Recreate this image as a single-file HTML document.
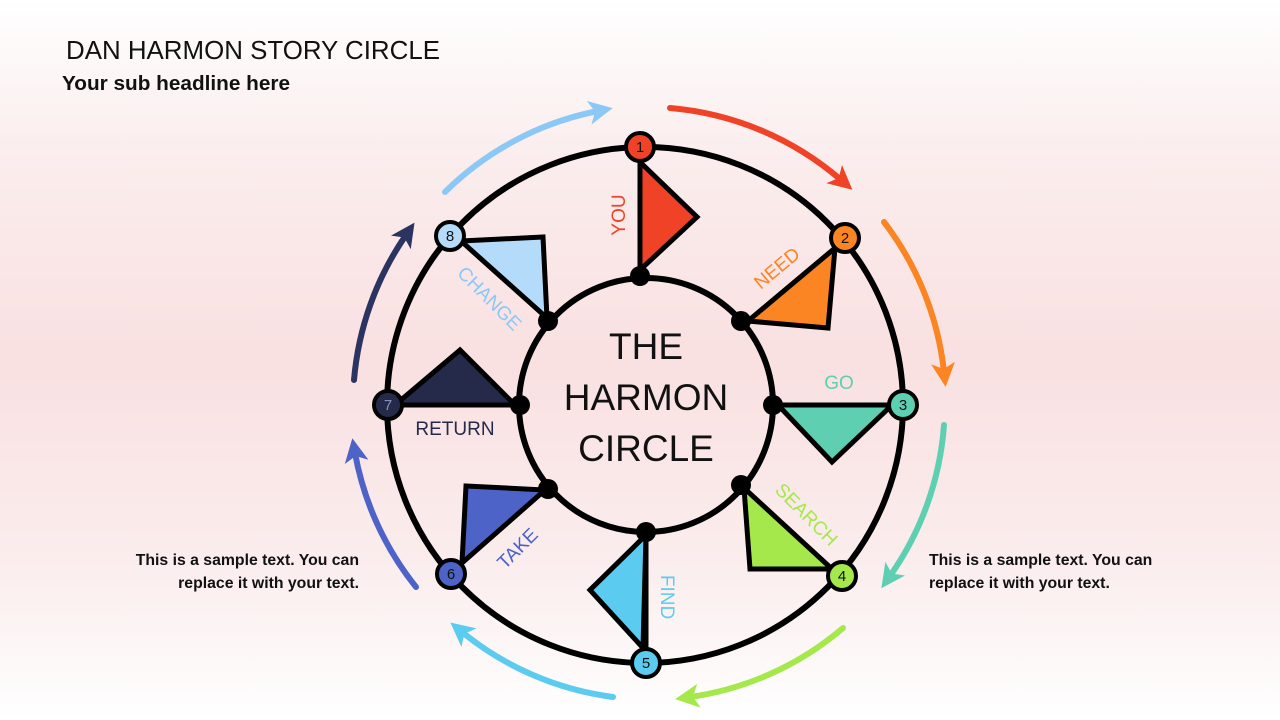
<!DOCTYPE html>
<html><head><meta charset="utf-8"><style>
html,body{margin:0;padding:0}
body{width:1280px;height:720px;overflow:hidden;font-family:"Liberation Sans","DejaVu Sans",sans-serif;
background:linear-gradient(180deg,#ffffff 0%,#fbeeee 20%,#f9e0e1 50%,#fbeeee 80%,#ffffff 100%);}
</style></head><body>
<svg width="1280" height="720" xmlns="http://www.w3.org/2000/svg" style="position:absolute;left:0;top:0">
<defs>
<marker id="m1" markerWidth="4" markerHeight="4" refX="1.5" refY="2" orient="auto" markerUnits="strokeWidth"><path d="M0,0 L4,2 L0,4 L1,2 Z" fill="#f04226"/></marker>
<marker id="m2" markerWidth="4" markerHeight="4" refX="1.5" refY="2" orient="auto" markerUnits="strokeWidth"><path d="M0,0 L4,2 L0,4 L1,2 Z" fill="#fb8423"/></marker>
<marker id="m3" markerWidth="4" markerHeight="4" refX="1.5" refY="2" orient="auto" markerUnits="strokeWidth"><path d="M0,0 L4,2 L0,4 L1,2 Z" fill="#5fcfb1"/></marker>
<marker id="m4" markerWidth="4" markerHeight="4" refX="1.5" refY="2" orient="auto" markerUnits="strokeWidth"><path d="M0,0 L4,2 L0,4 L1,2 Z" fill="#a5e84c"/></marker>
<marker id="m5" markerWidth="4" markerHeight="4" refX="1.5" refY="2" orient="auto" markerUnits="strokeWidth"><path d="M0,0 L4,2 L0,4 L1,2 Z" fill="#5ccbf0"/></marker>
<marker id="m6" markerWidth="4" markerHeight="4" refX="1.5" refY="2" orient="auto" markerUnits="strokeWidth"><path d="M0,0 L4,2 L0,4 L1,2 Z" fill="#4d63c8"/></marker>
<marker id="m7" markerWidth="4" markerHeight="4" refX="1.5" refY="2" orient="auto" markerUnits="strokeWidth"><path d="M0,0 L4,2 L0,4 L1,2 Z" fill="#2b3461"/></marker>
<marker id="m8" markerWidth="4" markerHeight="4" refX="1.5" refY="2" orient="auto" markerUnits="strokeWidth"><path d="M0,0 L4,2 L0,4 L1,2 Z" fill="#8cc8f5"/></marker>
</defs>
<text x="66" y="59" font-size="26" fill="#111" textLength="374" lengthAdjust="spacingAndGlyphs">DAN HARMON STORY CIRCLE</text>
<text x="62" y="90" font-size="20" font-weight="bold" fill="#111" textLength="228" lengthAdjust="spacingAndGlyphs">Your sub headline here</text>
<text x="359" y="565" font-size="15.8" font-weight="bold" fill="#111" text-anchor="end">This is a sample text. You can</text>
<text x="359" y="588" font-size="15.8" font-weight="bold" fill="#111" text-anchor="end">replace it with your text.</text>
<text x="929" y="565" font-size="15.8" font-weight="bold" fill="#111">This is a sample text. You can</text>
<text x="929" y="588" font-size="15.8" font-weight="bold" fill="#111">replace it with your text.</text>

<g fill="none" stroke-width="6" stroke-linecap="round">
<path d="M670,108 A300,300 0 0 1 841,180" stroke="#f04226" marker-end="url(#m1)"/>
<path d="M884,222 A300,300 0 0 1 944,372" stroke="#fb8423" marker-end="url(#m2)"/>
<path d="M944,425 A300,300 0 0 1 890,576" stroke="#5fcfb1" marker-end="url(#m3)"/>
<path d="M843,628 A300,300 0 0 1 690,697" stroke="#a5e84c" marker-end="url(#m4)"/>
<path d="M613,697 A300,300 0 0 1 462,632" stroke="#5ccbf0" marker-end="url(#m5)"/>
<path d="M416,587 A300,300 0 0 1 355,453" stroke="#4d63c8" marker-end="url(#m6)"/>
<path d="M354,380 A300,300 0 0 1 406,235" stroke="#2b3461" marker-end="url(#m7)"/>
<path d="M445,192 A300,300 0 0 1 598,111" stroke="#8cc8f5" marker-end="url(#m8)"/>
</g>

<g stroke="#000" stroke-width="6" fill="none">
<circle cx="645" cy="405" r="258"/>
<circle cx="646" cy="405" r="127"/>
</g>
<g stroke="#000" stroke-width="5" stroke-linejoin="miter">
<polygon points="640,162 697,217 640,270" fill="#f04226"/>
<line x1="640" y1="150" x2="640" y2="276"/>
<polygon points="748,321 835,248 828,328" fill="#fb8423"/>
<polygon points="778,405 892,405 832,462" fill="#5fcfb1"/>
<polygon points="744,488 750,569 832,569" fill="#a5e84c"/>
<polygon points="646,535 590,590 643,648" fill="#5ccbf0"/>
<line x1="646" y1="532" x2="646" y2="660"/>
<polygon points="466,486 545,490 462,563" fill="#4d63c8"/>
<polygon points="395,405 460,350 515,405" fill="#252a4a"/>
<polygon points="461,241 543,237 547,318" fill="#b4dcfa"/>
</g>
<g fill="#000">
<circle cx="640" cy="276" r="10"/><circle cx="741" cy="321" r="10"/><circle cx="773" cy="405" r="10"/><circle cx="741" cy="485" r="10"/>
<circle cx="646" cy="532" r="10"/><circle cx="548" cy="489" r="10"/><circle cx="520" cy="405" r="10"/><circle cx="548" cy="321" r="10"/>
</g>
<g stroke="#000" stroke-width="4" font-size="15" text-anchor="middle">
<circle cx="640" cy="147" r="14" fill="#f04226"/>
<circle cx="845" cy="238" r="14" fill="#fb8423"/>
<circle cx="903" cy="405" r="14" fill="#5fcfb1"/>
<circle cx="842" cy="576" r="14" fill="#a5e84c"/>
<circle cx="646" cy="663" r="14" fill="#5ccbf0"/>
<circle cx="451" cy="574" r="14" fill="#4d63c8"/>
<circle cx="388" cy="405" r="14" fill="#252a4a"/>
<circle cx="450" cy="236" r="14" fill="#b4dcfa"/>
</g>
<g font-size="15" text-anchor="middle" fill="#111">
<text x="640" y="152">1</text><text x="845" y="243">2</text><text x="903" y="410">3</text><text x="842" y="581">4</text>
<text x="646" y="668">5</text><text x="451" y="579">6</text><text x="388" y="410" fill="#8890c0">7</text><text x="450" y="241">8</text>
</g>
<g font-size="19" text-anchor="middle">
<text transform="translate(625,215) rotate(-90)" fill="#f04226">YOU</text>
<text transform="translate(781,273) rotate(-40)" fill="#fb8423">NEED</text>
<text x="839" y="389" fill="#5fcfb1">GO</text>
<text transform="translate(802,519) rotate(45)" fill="#a5e84c">SEARCH</text>
<text transform="translate(661,597) rotate(90)" fill="#5ccbf0">FIND</text>
<text transform="translate(522,553) rotate(-45)" fill="#4d63c8">TAKE</text>
<text x="455" y="435" fill="#252a4a">RETURN</text>
<text transform="translate(485,303) rotate(45)" fill="#8cc8f5">CHANGE</text>
</g>
<g font-size="37" text-anchor="middle" fill="#111">
<text x="646" y="359">THE</text>
<text x="646" y="410">HARMON</text>
<text x="646" y="461">CIRCLE</text>
</g>
</svg>
</body></html>
